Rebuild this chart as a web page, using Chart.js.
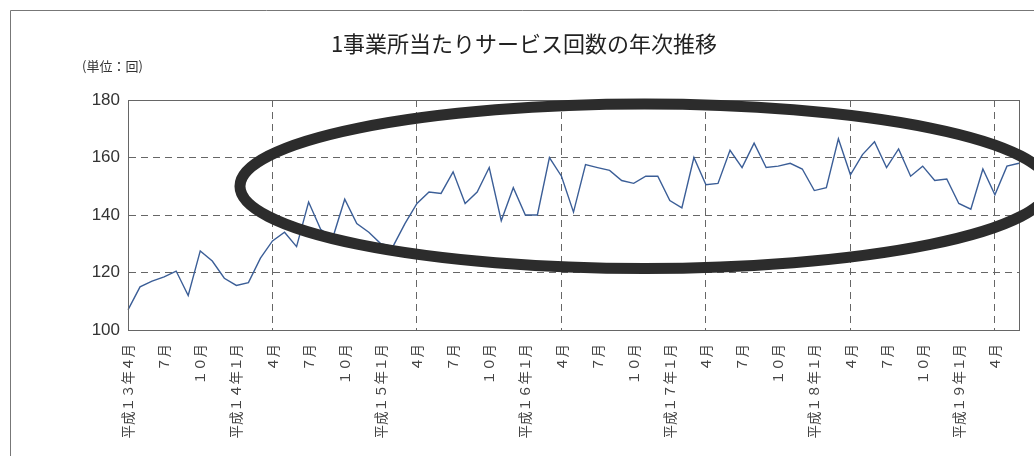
<!DOCTYPE html>
<html>
<head>
<meta charset="utf-8">
<script src="https://cdn.jsdelivr.net/npm/chart.js@4/dist/chart.umd.min.js"></script>
<style>
  html, body { margin: 0; padding: 0; background: #fff; }
  #wrap { width: 1034px; height: 456px; position: relative; }
</style>
</head>
<body>
<div id="wrap"><canvas id="chart"></canvas></div>
<script>
// monthly values, 平成13年4月 .. 平成19年6月
var values = [
  107, 115, 117, 118.5, 120.5, 112, 127.5, 124, 118, 115.5, 116.5, 125,
  131, 134, 129, 144.5, 135, 132, 145.5, 137, 134, 130, 129, 137,
  144, 148, 147.5, 155, 144, 148, 156.5, 138, 149.5, 140, 140, 160,
  153.5, 141, 157.5, 156.5, 155.5, 152, 151, 153.5, 153.5, 145, 142.5, 160,
  150.5, 151, 162.5, 156.5, 165, 156.5, 157, 158, 156, 148.5, 149.5, 166.5,
  154, 161, 165.5, 156.5, 163, 153.5, 157, 152, 152.5, 144, 142, 156,
  147, 157, 158
];

// one label for every third month
var tickLabels = [
  '平成１３年４月', '７月', '１０月',
  '平成１４年１月', '４月', '７月', '１０月',
  '平成１５年１月', '４月', '７月', '１０月',
  '平成１６年１月', '４月', '７月', '１０月',
  '平成１７年１月', '４月', '７月', '１０月',
  '平成１８年１月', '４月', '７月', '１０月',
  '平成１９年１月', '４月'
];

var yTicks = [100, 120, 140, 160, 180];

var categories = [];
for (var i = 0; i < values.length; i++) {
  categories.push('m' + i);
}

var title = '1事業所当たりサービス回数の年次推移';
var unitText = '(単位：回)';

var cjk = '"Noto Sans CJK JP", "Noto Sans", sans-serif';

var decor = {
  id: 'decor',
  beforeDraw: function(chart) {
    var ctx = chart.ctx;
    ctx.save();
    ctx.fillStyle = '#fff';
    ctx.fillRect(0, 0, chart.width, chart.height);
    // outer frame (left and top only)
    ctx.strokeStyle = '#777';
    ctx.lineWidth = 1;
    ctx.beginPath();
    ctx.moveTo(10.5, chart.height);
    ctx.lineTo(10.5, 10.5);
    ctx.lineTo(chart.width, 10.5);
    ctx.stroke();

    ctx.fillStyle = '#222';
    ctx.font = '22px ' + cjk;
    ctx.textAlign = 'center';
    ctx.textBaseline = 'middle';
    ctx.fillText(title, 524, 44);

    ctx.fillStyle = '#333';
    ctx.font = '13px ' + cjk;
    ctx.textAlign = 'left';
    ctx.fillText(unitText, 82, 66);
    ctx.restore();
  },
  afterDatasetsDraw: function(chart) {
    var ctx = chart.ctx;
    var a = chart.chartArea;
    var xs = chart.scales.x;
    var ys = chart.scales.y;
    ctx.save();
    // plot frame
    ctx.strokeStyle = '#666';
    ctx.lineWidth = 1;
    ctx.strokeRect(Math.round(a.left) + 0.5, Math.round(a.top) + 0.5,
      Math.round(a.right - a.left), Math.round(a.bottom - a.top));

    // hand-drawn style ellipse annotation
    var cx = xs.getPixelForValue(42.9);
    var cy = ys.getPixelForValue(150);
    var rx = xs.getPixelForValue(42.9 + 33.6) - cx;
    var ry = cy - ys.getPixelForValue(150 + 28.6);
    ctx.strokeStyle = '#2c2c2c';
    ctx.lineWidth = 11;
    ctx.beginPath();
    ctx.ellipse(cx, cy, rx, ry, 0, 0, Math.PI * 2);
    ctx.stroke();
    ctx.restore();
  }
};

new Chart(document.getElementById('chart'), {
  type: 'line',
  data: {
    labels: categories,
    datasets: [{
      data: values,
      borderColor: '#3b5e97',
      borderWidth: 1.4,
      pointRadius: 0,
      tension: 0,
      fill: false
    }]
  },
  options: {
    responsive: true,
    maintainAspectRatio: false,
    animation: false,
    layout: { padding: { top: 100, right: 0, left: 0, bottom: 0 } },
    plugins: {
      legend: { display: false },
      title: { display: false },
      tooltip: { enabled: false }
    },
    scales: {
      x: {
        offset: false,
        afterFit: function(scale) {
          scale.height = 126;
          scale.paddingRight = 15;
        },
        grid: {
          drawTicks: false,
          color: function(c) {
            return (c.index > 0 && c.index % 12 === 0) ? '#666' : 'transparent';
          },
          lineWidth: 1
        },
        border: { display: true, color: '#666', width: 1, dash: [7, 5] },
        ticks: {
          autoSkip: false,
          maxRotation: 90,
          minRotation: 90,
          padding: 14,
          color: '#444',
          font: { family: cjk, size: 13.5 },
          callback: function(v, idx) {
            return idx % 3 === 0 ? tickLabels[idx / 3] : '';
          }
        }
      },
      y: {
        min: 100,
        max: 180,
        afterFit: function(scale) { scale.width = 128; },
        afterBuildTicks: function(scale) {
          scale.ticks = yTicks.map(function(v) { return { value: v }; });
        },
        grid: {
          drawTicks: false,
          color: function(c) {
            var v = c.tick ? c.tick.value : null;
            return (v === 100 || v === 180) ? 'transparent' : '#666';
          },
          lineWidth: 1
        },
        border: { display: true, color: '#666', width: 1, dash: [7, 5] },
        ticks: {
          padding: 8,
          color: '#333',
          font: { family: '"Liberation Sans", Arial, sans-serif', size: 17 }
        }
      }
    }
  },
  plugins: [decor]
});
</script>
</body>
</html>
